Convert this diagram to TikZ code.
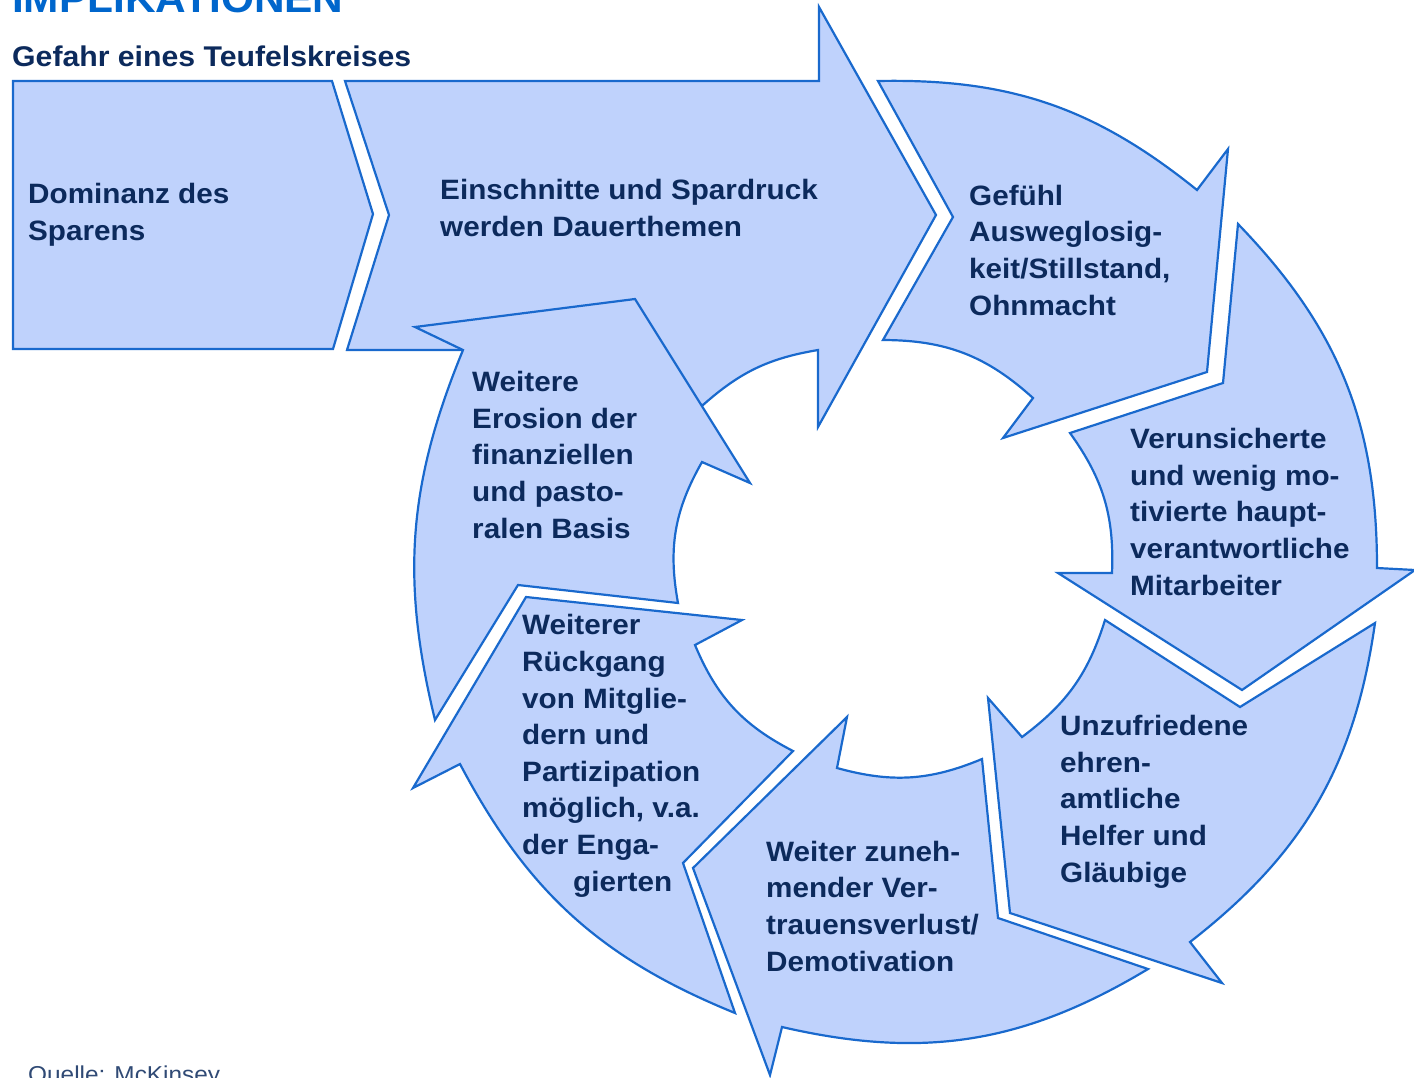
\documentclass[tikz,border=0pt]{standalone}
\usepackage{fontspec}
\setmainfont{Liberation Sans}[FakeStretch=1.06]
\definecolor{arrowfill}{RGB}{191,210,252}
\definecolor{arrowline}{RGB}{25,105,205}
\definecolor{textnavy}{RGB}{12,42,92}
\definecolor{titleblue}{RGB}{0,102,204}

\begin{document}
\begin{tikzpicture}[x=1pt,y=-1pt]
  \tikzstyle{segment}=[draw=arrowline,fill=arrowfill,line width=2.2pt,line join=miter]
  \tikzstyle{boxtext}=[anchor=base west,inner sep=0pt,align=left,text=textnavy,
                       font=\fontsize{28}{36.6}\selectfont\bfseries]
  \useasboundingbox (0,0) rectangle (1414,1077);

  \node [anchor=base west,inner sep=0pt,text=titleblue,font=\fontsize{40}{40}\selectfont\bfseries]
    (title) at (12,12) {IMPLIKATIONEN};
  \node [anchor=base west,inner sep=0pt,text=textnavy,font=\fontsize{28.5}{30}\selectfont\bfseries]
    (sub) at (12,66) {Gefahr eines Teufelskreises};

  % straight part
  \draw [segment] (13,81) -- (332,81) -- (373,214) -- (333,349) -- (13,349) -- cycle;
  \draw [segment] (345,81) -- (819,81) -- (819,7) -- (936,215) -- (818,427) -- (818,350)
    to[bend right=16] (703,405) -- (463,350) -- (347,350) -- (389,215) -- cycle;

  % the circle
  \draw [segment] (878,81) to[bend left=20] (1197,190) -- (1228,149) -- (1207,372)
    -- (1003,438) -- (1033,398) to[bend right=21] (883,340) -- (953,217) -- cycle;
  \draw [segment] (1238,224) to[bend left=22] (1377,568) -- (1415,570) -- (1242,690)
    -- (1058,573) -- (1112,573) to[bend right=19] (1070,433) -- (1223,383) -- cycle;
  \draw [segment] (1375,623) to[bend left=22] (1190,942) -- (1222,983) -- (1010,913)
    -- (988,698) -- (1022,737) to[bend right=18] (1105,620) -- (1240,707) -- cycle;
  \draw [segment] (1148,969) to[bend left=22] (782,1027) -- (770,1075) -- (693,868)
    -- (847,717) -- (837,768) to[bend right=19] (982,759) -- (998,918) -- cycle;
  \draw [segment] (735,1013) to[bend left=20] (460,764) -- (413,788) -- (526,597)
    -- (742,620) -- (695,645) to[bend right=20] (793,751) -- (683,863) -- cycle;
  \draw [segment] (435,720) to[bend left=18] (463,350) -- (415,327) -- (635,299)
    -- (750,483) -- (702,462) to[bend right=20] (678,603) -- (518,585) -- cycle;

  \node [boxtext] (dom) at (28,240) {Dominanz des\\Sparens};
  \node [boxtext] (ein) at (440,236) {Einschnitte und Spardruck\\werden Dauerthemen};
  \node [boxtext] (gef) at (969,315) {Gefühl\\Ausweglosig-\\keit/Stillstand,\\Ohnmacht};
  \node [boxtext] (ver) at (1130,595) {Verunsicherte\\und wenig mo-\\tivierte haupt-\\verantwortliche\\Mitarbeiter};
  \node [boxtext] (unz) at (1060,882) {Unzufriedene\\ehren-\\amtliche\\Helfer und\\Gläubige};
  \node [boxtext] (vtr) at (766,971) {Weiter zuneh-\\mender Ver-\\trauensverlust/\\Demotivation};
  \node [boxtext] (rue) at (522,891) {Weiterer\\Rückgang\\von Mitglie-\\dern und\\Partizipation\\möglich, v.a.\\der Enga-\\\hspace*{51pt}gierten};
  \node [boxtext] (ero) at (472,538) {Weitere\\Erosion der\\finanziellen\\und pasto-\\ralen Basis};

  \node [anchor=base west,inner sep=0pt,text=textnavy!85,font=\fontsize{23}{26}\selectfont]
    (src) at (28,1082) {Quelle: McKinsey};
\end{tikzpicture}
\end{document}
